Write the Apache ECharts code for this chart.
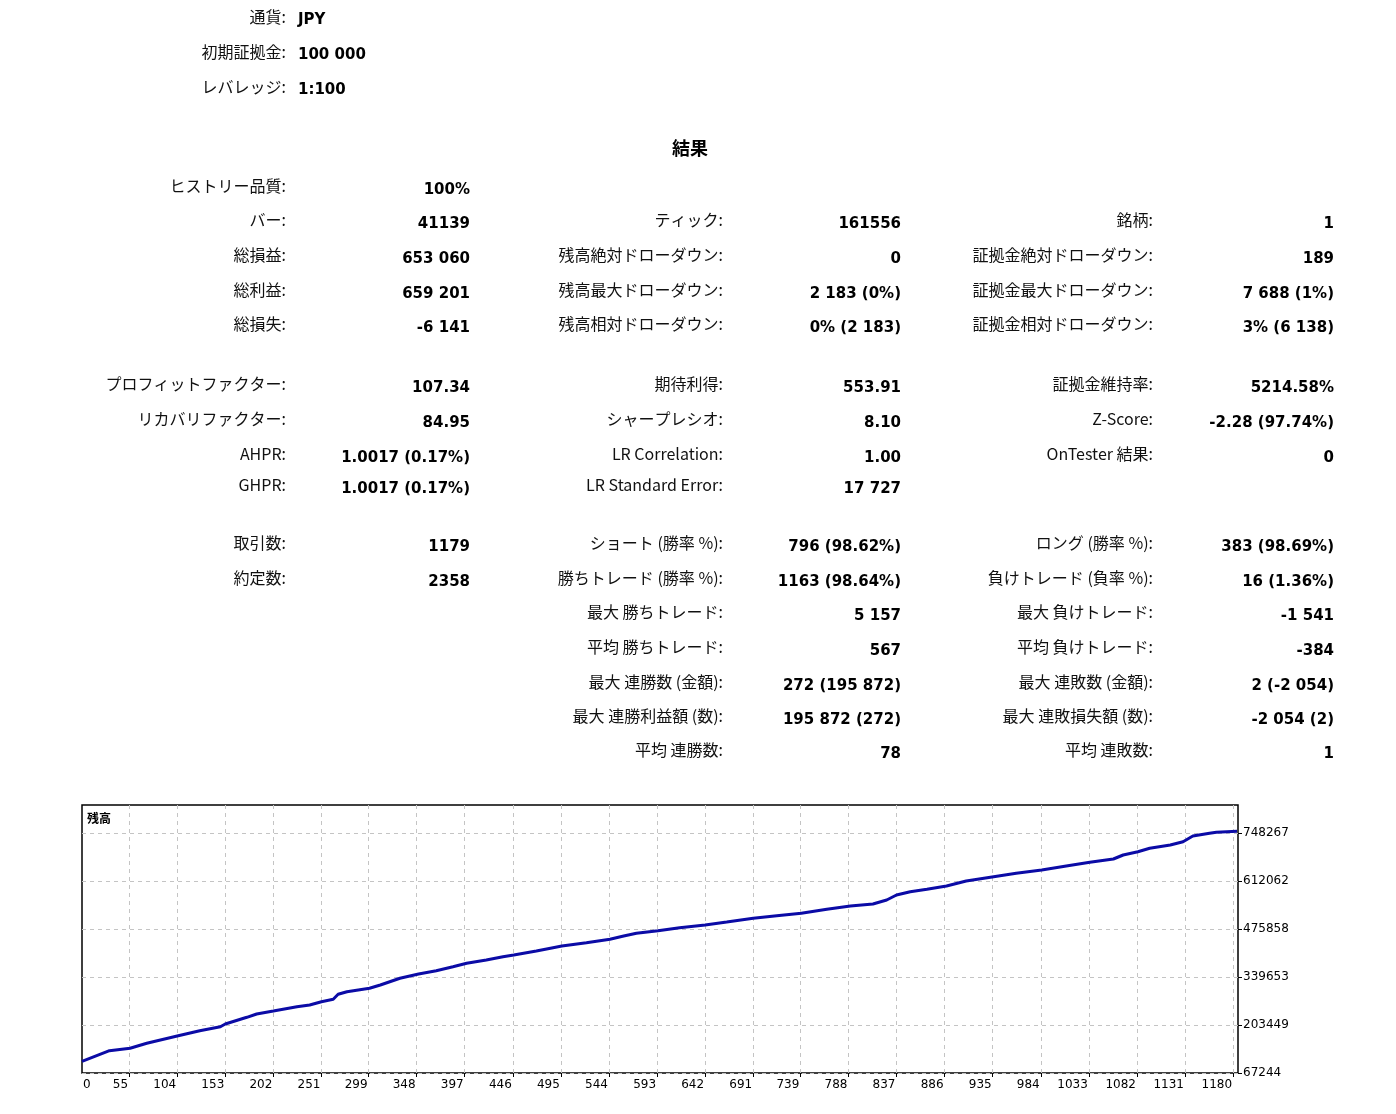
<!DOCTYPE html>
<html>
<head>
<meta charset="utf-8">
<title>結果</title>
<script src="https://cdn.jsdelivr.net/npm/echarts@6/dist/echarts.min.js"></script>
<style>
html, body { margin: 0; padding: 0; background: #fff; }
#main { width: 1396px; height: 1114px; }
</style>
</head>
<body>
<div id="main"></div>
<script>
'use strict';

// 残高カーブ（取引番号, 残高）
const tradeNo = [7, 35, 56, 73, 104, 127, 148, 153, 175, 185, 202, 226, 239, 251, 263,
    268, 277, 300, 311, 331, 350, 368, 385, 399, 419, 436, 447, 470, 487, 496,
    521, 545, 559, 572, 594, 616, 642, 664, 691, 715, 740, 766, 790, 813, 827,
    837, 851, 868, 888, 908, 936, 959, 985, 1010, 1034, 1058, 1068, 1083, 1095, 1116,
    1129, 1139, 1156, 1163, 1184];
const balance = [100000, 130500, 137300, 151500, 172200, 187300, 198600, 206300, 225300, 234700,
    243200, 255400, 260200, 269600, 276400, 290600, 297900, 307600, 317000, 336000,
    348200, 357500, 368900, 378500, 387900, 397300, 402100, 413400, 422800, 427600,
    437000, 446600, 456000, 463700, 471000, 479500, 487200, 495700, 506200, 513600,
    520400, 531800, 541100, 546800, 558100, 572300, 581700, 588500, 597900, 612100,
    624300, 633900, 643300, 654600, 665100, 674500, 685800, 695200, 704900, 714200,
    723600, 739800, 747400, 750500, 753060];

const xTickLabels = [55, 104, 153, 202, 251, 299, 348, 397, 446, 495, 544, 593, 642, 691,
    739, 788, 837, 886, 935, 984, 1033, 1082, 1131, 1180];
const yTickLabels = [67244, 203449, 339653, 475858, 612062, 748267];
const xStart = 7, xEnd = 1185;       // 左端は「0」と表示される
const yTop = 827721;

// 口座情報
const accountRows = [
    ['通貨:', 'JPY'],
    ['初期証拠金:', '100 000'],
    ['レバレッジ:', '1:100']
];

// 結果 (行ごと: 列1, 列2, 列3)
const resultRows = [
    [['ヒストリー品質:', '100%'], null, null],
    [['バー:', '41139'], ['ティック:', '161556'], ['銘柄:', '1']],
    [['総損益:', '653 060'], ['残高絶対ドローダウン:', '0'], ['証拠金絶対ドローダウン:', '189']],
    [['総利益:', '659 201'], ['残高最大ドローダウン:', '2 183 (0%)'], ['証拠金最大ドローダウン:', '7 688 (1%)']],
    [['総損失:', '-6 141'], ['残高相対ドローダウン:', '0% (2 183)'], ['証拠金相対ドローダウン:', '3% (6 138)']],
    [['プロフィットファクター:', '107.34'], ['期待利得:', '553.91'], ['証拠金維持率:', '5214.58%']],
    [['リカバリファクター:', '84.95'], ['シャープレシオ:', '8.10'], ['Z-Score:', '-2.28 (97.74%)']],
    [['AHPR:', '1.0017 (0.17%)'], ['LR Correlation:', '1.00'], ['OnTester 結果:', '0']],
    [['GHPR:', '1.0017 (0.17%)'], ['LR Standard Error:', '17 727'], null],
    [['取引数:', '1179'], ['ショート (勝率 %):', '796 (98.62%)'], ['ロング (勝率 %):', '383 (98.69%)']],
    [['約定数:', '2358'], ['勝ちトレード (勝率 %):', '1163 (98.64%)'], ['負けトレード (負率 %):', '16 (1.36%)']],
    [null, ['最大 勝ちトレード:', '5 157'], ['最大 負けトレード:', '-1 541']],
    [null, ['平均 勝ちトレード:', '567'], ['平均 負けトレード:', '-384']],
    [null, ['最大 連勝数 (金額):', '272 (195 872)'], ['最大 連敗数 (金額):', '2 (-2 054)']],
    [null, ['最大 連勝利益額 (数):', '195 872 (272)'], ['最大 連敗損失額 (数):', '-2 054 (2)']],
    [null, ['平均 連勝数:', '78'], ['平均 連敗数:', '1']]
];

// レイアウト
const rowY = [187, 221, 256, 291, 325, 385, 420, 455, 486, 544, 579, 613, 648, 683, 717, 751];
const colLabelX = [286, 723, 1153];
const colValueX = [470, 901, 1334];
const accountY = [17, 52, 87];

const labelFont = '"Noto Sans CJK JP", "Noto Sans", sans-serif';
const valueFont = '"DejaVu Sans", sans-serif';

function labelText(x, y, text) {
    return {
        type: 'text', x: x, y: y,
        style: {text: text, align: 'right', verticalAlign: 'middle',
            fontFamily: labelFont, fontSize: 16, fill: '#111'}
    };
}
function valueText(x, y, text, align) {
    return {
        type: 'text', x: x, y: y,
        style: {text: text, align: align, verticalAlign: 'middle',
            fontFamily: valueFont, fontSize: 15, fontWeight: 'bold', fill: '#000'}
    };
}

let texts = [];
accountRows.forEach(function (r, i) {
    texts.push(labelText(286, accountY[i], r[0]));
    texts.push(valueText(298, accountY[i] + 3, r[1], 'left'));
});
texts.push({
    type: 'text', x: 690, y: 148,
    style: {text: '結果', align: 'center', verticalAlign: 'middle',
        fontFamily: labelFont, fontSize: 18, fontWeight: 'bold', fill: '#000'}
});
resultRows.forEach(function (row, i) {
    row.forEach(function (cell, c) {
        if (!cell) return;
        texts.push(labelText(colLabelX[c], rowY[i] - 1, cell[0]));
        texts.push(valueText(colValueX[c], rowY[i] + 3, cell[1], 'right'));
    });
});
texts.push({
    type: 'text', x: 87, y: 818,
    style: {text: '残高', align: 'left', verticalAlign: 'middle',
        fontFamily: labelFont, fontSize: 12, fontWeight: 'bold', fill: '#000'}
});

const myChart = echarts.init(document.getElementById('main'));

const option = {
    backgroundColor: '#fff',
    animation: false,
    grid: {
        left: 82, top: 805, width: 1156, height: 268,
        show: true, borderColor: '#000', borderWidth: 1.5, backgroundColor: '#fff'
    },
    xAxis: {
        type: 'value', min: xStart, max: xEnd,
        axisLine: {show: false},
        axisTick: {show: true, customValues: xTickLabels, length: 4, lineStyle: {color: '#000'}},
        axisLabel: {
            customValues: [xStart].concat(xTickLabels),
            formatter: function (v) { return v === xStart ? '0' : String(v); },
            align: 'right', alignMinLabel: 'left',
            padding: [0, 1, 0, 1],
            color: '#000', fontSize: 12, fontFamily: valueFont, margin: 6
        },
        splitLine: {show: true, lineStyle: {color: '#c4c4c4', type: [4, 4], width: 1}}
    },
    yAxis: {
        type: 'value', position: 'right', min: yTickLabels[0], max: yTop,
        axisLine: {show: false},
        axisTick: {show: true, customValues: yTickLabels, length: 4, lineStyle: {color: '#000'}},
        axisLabel: {
            customValues: yTickLabels,
            formatter: function (v) { return String(Math.round(v)); },
            color: '#000', fontSize: 12, fontFamily: valueFont, margin: 5
        },
        splitLine: {show: true, lineStyle: {color: '#c4c4c4', type: [4, 4], width: 1}}
    },
    series: [{
        name: '残高',
        type: 'line',
        data: tradeNo.map((t, i) => [t, balance[i]]),
        showSymbol: false,
        lineStyle: {color: '#0b0ba6', width: 3},
        z: 5
    }],
    graphic: texts
};

myChart.setOption(option);
</script>
</body>
</html>
